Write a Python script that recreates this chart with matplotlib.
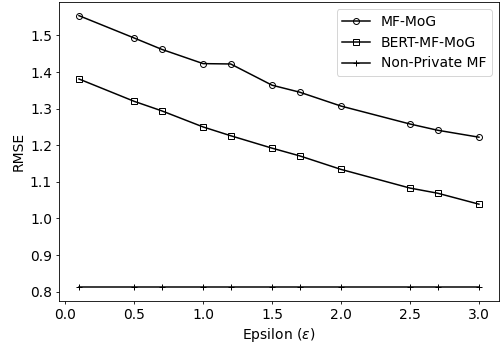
import matplotlib
matplotlib.use("Agg")
import matplotlib.pyplot as plt

epsilon = [0.1, 0.5, 0.7, 1.0, 1.2, 1.5, 1.7, 2.0, 2.5, 2.7, 3.0]
mf_mog = [1.554, 1.493, 1.462, 1.423, 1.422, 1.364, 1.345, 1.307, 1.258, 1.241, 1.222]
bert_mf_mog = [1.381, 1.320, 1.294, 1.250, 1.226, 1.192, 1.171, 1.134, 1.083, 1.069, 1.039]
non_private = [0.812] * len(epsilon)

plt.rcParams.update({
    "axes.linewidth": 0.6,
    "xtick.major.size": 2.5, "ytick.major.size": 2.5,
    "xtick.major.width": 0.6, "ytick.major.width": 0.6,
    "xtick.major.pad": 2.5, "ytick.major.pad": 2.5,
    "axes.labelpad": 2.9,
    "patch.linewidth": 0.72,
    "font.size": 10,
})

fig, ax = plt.subplots(figsize=(5.04, 3.47), dpi=100)
kw = dict(color="black", linewidth=1.08, markeredgewidth=0.72)
ax.plot(epsilon, mf_mog, marker="o", markerfacecolor="none", markersize=4.3, label="MF-MoG", **kw)
ax.plot(epsilon, bert_mf_mog, marker="s", markerfacecolor="none", markersize=4.3, label="BERT-MF-MoG", **kw)
ax.plot(epsilon, non_private, marker="+", markersize=4.3, label="Non-Private MF", **kw)
ax.set_xlabel(r"Epsilon ($\epsilon$)")
ax.set_ylabel("RMSE")
ax.legend(loc="upper right")
fig.subplots_adjust(left=0.117, right=0.990, top=0.994, bottom=0.133)
fig.savefig("out.png", dpi=100)
